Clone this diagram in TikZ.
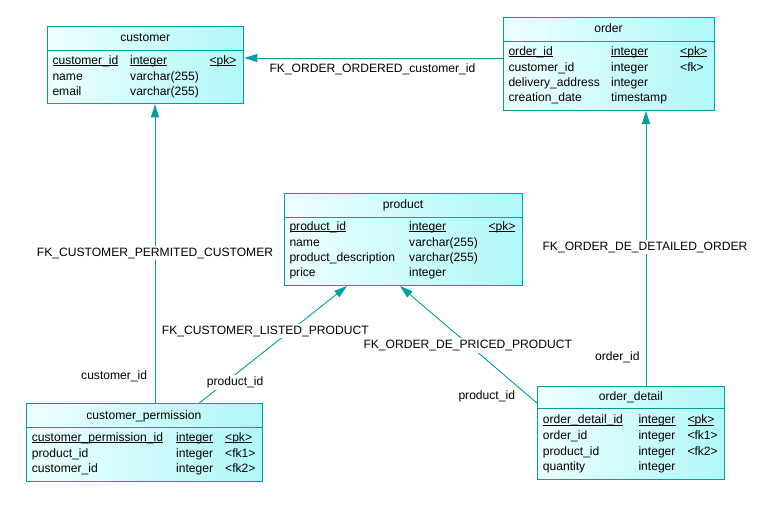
\documentclass[tikz,border=0pt]{standalone}
\usepackage{fontspec}
\setmainfont{Liberation Sans}
\usetikzlibrary{arrows.meta}
\definecolor{tealc}{RGB}{0,158,158}
\definecolor{boxl}{RGB}{238,255,255}
\definecolor{boxr}{RGB}{176,248,248}
\newsavebox{\ulbox}
\newcommand{\ulx}[1]{\sbox{\ulbox}{#1}\rlap{\rule[-2pt]{\wd\ulbox}{0.8pt}}\usebox{\ulbox}}
\tikzset{
 tbl/.style={draw=tealc, line width=1pt, left color=boxl, right color=boxr, anchor=north west, inner sep=0pt},
 sepl/.style={draw=tealc, line width=1pt},
 txt/.style={anchor=base west, inner sep=0pt, text=black, font=\fontsize{12.1}{14}\selectfont},
 ttl/.style={anchor=base, inner sep=0pt, text=black, font=\fontsize{12.1}{14}\selectfont},
 fkline/.style={draw=tealc, line width=0.9pt, -{Triangle[length=13pt,width=8pt]}},
 lbl/.style={fill=white, inner sep=2pt, text=black, font=\fontsize{12.1}{14}\selectfont},
}
\begin{document}
\begin{tikzpicture}[x=1pt,y=-1pt]
\useasboundingbox (0,0) rectangle (766,512);
\fill[white] (0,0) rectangle (766,512);

% ---------- tables ----------
\node[tbl, minimum width=196pt, minimum height=77.3pt] (cust) at (47.3,26) {};
\draw[sepl] (cust.west |- 0,50) -- (cust.east |- 0,50);
\node[ttl] (cust-t) at (145.3,41.7) {customer};
\node[txt] (cust-1a) at (52.3,64) {\ulx{customer\_id}};
\node[txt] (cust-1b) at (130,64) {\ulx{integer}};
\node[txt] (cust-1c) at (209.3,64) {\ulx{<pk>}};
\node[txt] (cust-2a) at (52.3,80) {name};
\node[txt] (cust-2b) at (130,80) {varchar(255)};
\node[txt] (cust-3a) at (52.3,95.5) {email};
\node[txt] (cust-3b) at (130,95.5) {varchar(255)};

\node[tbl, minimum width=210.7pt, minimum height=92.7pt] (ord) at (503.3,17.3) {};
\draw[sepl] (ord.west |- 0,41.7) -- (ord.east |- 0,41.7);
\node[ttl] (ord-t) at (608.6,32.7) {order};
\node[txt] (ord-1a) at (508.3,55) {\ulx{order\_id}};
\node[txt] (ord-1b) at (611,55) {\ulx{integer}};
\node[txt] (ord-1c) at (680,55) {\ulx{<pk>}};
\node[txt] (ord-2a) at (508.3,71) {customer\_id};
\node[txt] (ord-2b) at (611,71) {integer};
\node[txt] (ord-2c) at (680,71) {<fk>};
\node[txt] (ord-3a) at (508.3,86) {delivery\_address};
\node[txt] (ord-3b) at (611,86) {integer};
\node[txt] (ord-4a) at (508.3,101.7) {creation\_date};
\node[txt] (ord-4b) at (611,101.7) {timestamp};

\node[tbl, minimum width=237.4pt, minimum height=92.3pt] (prod) at (284.3,192.7) {};
\draw[sepl] (prod.west |- 0,217.3) -- (prod.east |- 0,217.3);
\node[ttl] (prod-t) at (403,208.3) {product};
\node[txt] (prod-1a) at (289.3,230) {\ulx{product\_id}};
\node[txt] (prod-1b) at (409,230) {\ulx{integer}};
\node[txt] (prod-1c) at (488.3,230) {\ulx{<pk>}};
\node[txt] (prod-2a) at (289.3,246) {name};
\node[txt] (prod-2b) at (409,246) {varchar(255)};
\node[txt] (prod-3a) at (289.3,261) {product\_description};
\node[txt] (prod-3b) at (409,261) {varchar(255)};
\node[txt] (prod-4a) at (289.3,276.7) {price};
\node[txt] (prod-4b) at (409,276.7) {integer};

\node[tbl, minimum width=235.7pt, minimum height=77.7pt] (perm) at (26,403.3) {};
\draw[sepl] (perm.west |- 0,427.7) -- (perm.east |- 0,427.7);
\node[ttl] (perm-t) at (143.9,419) {customer\_permission};
\node[txt] (perm-1a) at (31.7,441) {\ulx{customer\_permission\_id}};
\node[txt] (perm-1b) at (176,441) {\ulx{integer}};
\node[txt] (perm-1c) at (225,441) {\ulx{<pk>}};
\node[txt] (perm-2a) at (31.7,457.3) {product\_id};
\node[txt] (perm-2b) at (176,457.3) {integer};
\node[txt] (perm-2c) at (225,457.3) {<fk1>};
\node[txt] (perm-3a) at (31.7,472.7) {customer\_id};
\node[txt] (perm-3b) at (176,472.7) {integer};
\node[txt] (perm-3c) at (225,472.7) {<fk2>};

\node[tbl, minimum width=187pt, minimum height=93pt] (od) at (537.3,386) {};
\draw[sepl] (od.west |- 0,408.3) -- (od.east |- 0,408.3);
\node[ttl] (od-t) at (630.8,400.7) {order\_detail};
\node[txt] (od-1a) at (542.7,423.3) {\ulx{order\_detail\_id}};
\node[txt] (od-1b) at (638.3,423.3) {\ulx{integer}};
\node[txt] (od-1c) at (687.3,423.3) {\ulx{<pk>}};
\node[txt] (od-2a) at (542.7,439) {order\_id};
\node[txt] (od-2b) at (638.3,439) {integer};
\node[txt] (od-2c) at (687.3,439) {<fk1>};
\node[txt] (od-3a) at (542.7,455) {product\_id};
\node[txt] (od-3b) at (638.3,455) {integer};
\node[txt] (od-3c) at (687.3,455) {<fk2>};
\node[txt] (od-4a) at (542.7,470) {quantity};
\node[txt] (od-4b) at (638.3,470) {integer};

% ---------- connectors ----------
\coordinate (h1) at (0,58);
\coordinate (v1) at (155,0);
\coordinate (v2) at (646,0);
\draw[fkline] (ord.west |- h1) -- (cust.east |- h1);
\draw[fkline] (perm.north -| v1) -- (cust.south -| v1);
\draw[fkline] (perm.north -| 199,0) -- (prod.south -| 347,0);
\draw[fkline] (od.west |- 0,403.3) -- (prod.south -| 400,0);
\draw[fkline] (od.north -| v2) -- (ord.south -| v2);

% ---------- labels ----------
\node[txt] (l1) at (269.3,72.7) {FK\_ORDER\_ORDERED\_customer\_id};
\node[lbl] (l2) at (155,253) {FK\_CUSTOMER\_PERMITED\_CUSTOMER};
\node[txt] (l2r) at (81,379) {customer\_id};
\node[lbl, anchor=base west] (l3) at (159.7,334) {FK\_CUSTOMER\_LISTED\_PRODUCT};
\node[lbl, anchor=base west] (l3r) at (204.7,385.7) {product\_id};
\node[lbl, anchor=base west] (l4) at (361.3,348.3) {FK\_ORDER\_DE\_PRICED\_PRODUCT};
\node[txt] (l4r) at (458.3,399.3) {product\_id};
\node[lbl] (l5) at (645,247) {FK\_ORDER\_DE\_DETAILED\_ORDER};
\node[txt] (l5r) at (595,360) {order\_id};
\end{tikzpicture}
\end{document}
